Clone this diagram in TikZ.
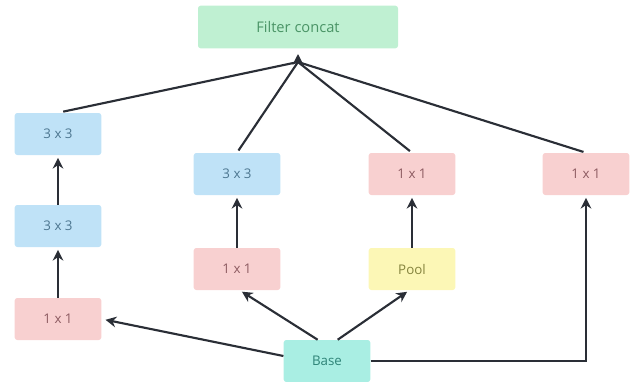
\documentclass[tikz,border=0pt]{standalone}
\usepackage{fontspec}
\setmainfont{Open Sans}
\usetikzlibrary{arrows.meta,positioning}

\definecolor{convblue}{HTML}{BFE2F7}
\definecolor{convpink}{HTML}{F8D0D0}
\definecolor{poolyel}{HTML}{FCF7B6}
\definecolor{catgreen}{HTML}{BFF0D2}
\definecolor{baseteal}{HTML}{A9EEE3}
\definecolor{edge}{HTML}{2A2E36}
\definecolor{bluetxt}{HTML}{4C7690}
\definecolor{pinktxt}{HTML}{8C5A60}
\definecolor{yeltxt}{HTML}{85843E}
\definecolor{greentxt}{HTML}{4A9466}
\definecolor{tealtxt}{HTML}{2F8478}

\begin{document}
\begin{tikzpicture}[x=0.75pt, y=-0.75pt, >={Stealth[length=8pt,width=8pt]},
  every node/.style={font=\fontsize{10}{12}\selectfont},
  blk/.style={rounded corners=2pt, minimum width=65pt, minimum height=31.5pt, inner sep=0pt},
  bluebox/.style={blk, fill=convblue, text=bluetxt},
  pinkbox/.style={blk, fill=convpink, text=pinktxt},
  link/.style={line width=1.6pt, draw=edge}]
  \useasboundingbox (0,0) rectangle (637,382);

  % Top
  \node[blk, fill=catgreen, text=greentxt, minimum width=150pt, minimum height=32pt,
        font=\fontsize{11}{13}\selectfont] (concat) at (298,27) {Filter concat};
  \coordinate (join) at (298,62);

  % Left branch
  \node[bluebox] (left3b) at (58,134) {3 x 3};
  \node[bluebox] (left3a) at (58,226) {3 x 3};
  \node[pinkbox] (left1) at (58,319) {1 x 1};

  % Second branch
  \node[bluebox] (mid3) at (237,174) {3 x 3};
  \node[pinkbox] (mid1) at (237,269) {1 x 1};

  % Pool branch
  \node[pinkbox] (pool1) at (412,174) {1 x 1};
  \node[blk, fill=poolyel, text=yeltxt] (pool) at (412,269) {Pool};

  % Right branch
  \node[pinkbox] (right1) at (586,174) {1 x 1};

  % Base
  \node[blk, fill=baseteal, text=tealtxt] (base) at (327,361) {Base};

  % Into concat
  \draw[link, shorten <=4pt] (left3b.north) -- (join);
  \draw[link, shorten <=2pt] (mid3.north) -- (join);
  \draw[link, shorten <=2pt] (pool1.north) -- (join);
  \draw[link, shorten <=2pt] (right1.north) -- (join);
  \draw[link, ->] (join) -- ++(0,-8);

  % Stacks
  \draw[link, ->, shorten >=2pt] (left1) -- (left3a);
  \draw[link, ->, shorten >=2pt] (left3a) -- (left3b);
  \draw[link, ->, shorten >=2pt] (mid1) -- (mid3);
  \draw[link, ->, shorten >=2pt] (pool) -- (pool1);

  % From base
  \draw[link, ->, shorten >=3pt] (base.west) ++(0,-5) -- (left1.east);
  \draw[link, ->, shorten >=2pt] ([xshift=-7pt]base.north) -- ([xshift=2pt]mid1.south);
  \draw[link, ->, shorten >=2pt] ([xshift=8pt]base.north) -- ([xshift=-2pt]pool.south);
  \draw[link, ->, shorten >=2pt] (base.east) -| (right1.south);
\end{tikzpicture}
\end{document}
